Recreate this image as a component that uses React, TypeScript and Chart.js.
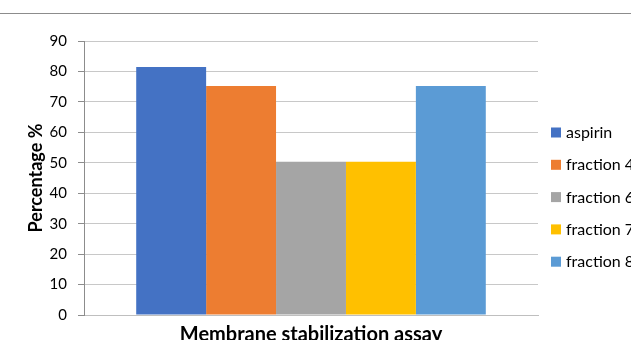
import React, { useEffect, useRef } from "react";
import { Chart, registerables } from "chart.js";

Chart.register(...registerables);

const categories = [""];
const seriesNames = ["aspirin", "fraction 4", "fraction 6", "fraction 7", "fraction 8"];
const seriesValues = [81.5, 75.2, 50.3, 50.3, 75.2];
const seriesColors = ["#4472C4", "#ED7D31", "#A5A5A5", "#FFC000", "#5B9BD5"];
const yTicks = [0, 10, 20, 30, 40, 50, 60, 70, 80, 90];
const yTitle = "Percentage %";
const xTitle = "Membrane stabilization assay";

const FONT = "Lato, 'Open Sans', sans-serif";

const legendPlugin = {
  id: "customLegend",
  afterDraw(chart: any) {
    const ctx = chart.ctx;
    const area = chart.chartArea;
    ctx.save();
    ctx.font = `16px ${FONT}`;
    ctx.textBaseline = "middle";
    ctx.textAlign = "left";
    const startY = 132.5;
    const step = 32.3;
    chart.data.datasets.forEach((ds: any, i: number) => {
      const y = startY + i * step;
      const x = area.right + 13;
      ctx.fillStyle = ds.backgroundColor;
      ctx.fillRect(x, y - 5, 10, 10);
      ctx.fillStyle = "#000";
      ctx.fillText(ds.label, x + 15, y + 0.5);
    });
    ctx.restore();
  },
};

export default function App() {
  const ref = useRef<HTMLCanvasElement | null>(null);
  useEffect(() => {
    if (!ref.current) return;
    const chart = new Chart(ref.current, {
      type: "bar",
      data: {
        labels: categories,
        datasets: seriesNames.map((name, i) => ({
          label: name,
          data: [seriesValues[i]],
          backgroundColor: seriesColors[i],
          borderWidth: 0,
          barPercentage: 1,
          categoryPercentage: 0.77,
        })),
      },
      options: {
        animation: false,
        responsive: false,
        maintainAspectRatio: false,
        layout: { padding: { top: 41, right: 93, left: 0, bottom: 0 } },
        plugins: {
          legend: { display: false },
          tooltip: { enabled: false },
        },
        scales: {
          x: {
            grid: { display: false, drawTicks: false },
            border: { display: true, color: "#bfbfbf", width: 1 },
            ticks: { display: false },
            title: {
              display: true,
              text: xTitle,
              color: "#000",
              font: { family: FONT, size: 20, weight: "bold" },
              padding: { top: 0, bottom: 3 },
            },
            afterFit(scale: any) {
              scale.height = 35;
            },
          },
          y: {
            min: 0,
            max: 90,
            afterBuildTicks(scale: any) {
              scale.ticks = yTicks.map((v) => ({ value: v }));
            },
            grid: {
              color: "#c8c8c8",
              tickLength: 6,
              tickColor: "#8c8c8c",
            },
            border: { display: true, color: "#8c8c8c", width: 1 },
            ticks: {
              color: "#000",
              padding: 11,
              font: { family: FONT, size: 15 },
            },
            title: {
              display: true,
              text: yTitle,
              color: "#000",
              font: { family: FONT, size: 18, weight: "bold" },
              padding: { top: 25, bottom: 0 },
            },
            afterFit(scale: any) {
              scale.width = 84;
            },
          },
        },
      },
      plugins: [legendPlugin],
    });
    return () => chart.destroy();
  }, []);

  return (
    <div
      style={{
        position: "fixed",
        left: 0,
        top: 0,
        width: 631,
        height: 340,
        overflow: "hidden",
        background: "#fff",
      }}
    >
      <div
        style={{
          position: "absolute",
          left: 0,
          top: 13,
          width: 631,
          height: 0,
          borderTop: "1px solid #8c8c8c",
        }}
      />
      <canvas
        ref={ref}
        width={631}
        height={350}
        style={{ position: "absolute", left: 0, top: 0, width: 631, height: 350 }}
      />
    </div>
  );
}
